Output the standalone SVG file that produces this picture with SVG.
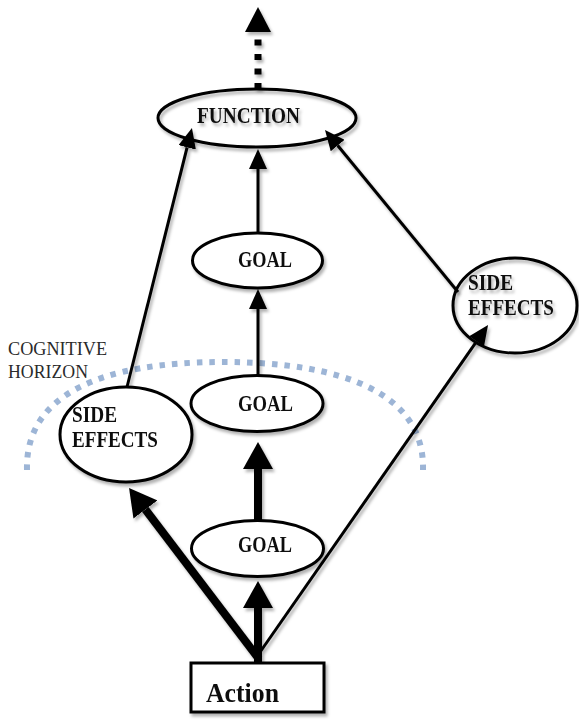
<svg xmlns="http://www.w3.org/2000/svg" width="579" height="721" viewBox="0 0 579 721">
  <defs>
    <style>
      .shape { fill: #fff; stroke: #000; stroke-width: 3; }
      .label { font-family: "Liberation Serif", "DejaVu Serif", serif; font-weight: bold; font-size: 23px; fill: #111; }
      .note { font-family: "Liberation Serif", "DejaVu Serif", serif; font-size: 18.5px; fill: #2a2a2a; }
      .edge { fill: none; stroke: #000; stroke-linecap: butt; }
      .thin { stroke-width: 3; marker-end: url(#head-thin); }
      .thick { stroke-width: 8; marker-end: url(#head-thick); }
      .horizon { fill: none; stroke: #9db5d6; stroke-width: 6; stroke-dasharray: 5.5 7; }
    </style>
    <filter id="shadow" filterUnits="userSpaceOnUse" x="0" y="0" width="579" height="721">
      <feDropShadow dx="2" dy="3" stdDeviation="1.8" flood-color="#000" flood-opacity="0.3"/>
    </filter>
    <filter id="soft" filterUnits="userSpaceOnUse" x="0" y="0" width="579" height="721">
      <feGaussianBlur stdDeviation="0.6"/>
    </filter>
    <marker id="head-thin" viewBox="0 0 20 18" refX="0" refY="9" markerWidth="20" markerHeight="18" markerUnits="userSpaceOnUse" orient="auto">
      <path d="M0,0 L20,9 L0,18 Z" fill="#000"/>
    </marker>
    <marker id="head-thick" viewBox="0 0 27 30" refX="0" refY="15" markerWidth="27" markerHeight="30" markerUnits="userSpaceOnUse" orient="auto">
      <path d="M0,0 L27,15 L0,30 Z" fill="#000"/>
    </marker>
  </defs>

  <!-- cognitive horizon: dotted arc with its caption -->
  <g id="cognitive-horizon">
    <path class="horizon" filter="url(#soft)" d="M27,470 C25,395 100,362 223,362 C346,362 425,395 423,470"/>
    <text class="note" x="8" y="355" textLength="99" lengthAdjust="spacingAndGlyphs">COGNITIVE</text>
    <text class="note" x="8" y="378" textLength="80" lengthAdjust="spacingAndGlyphs">HORIZON</text>
  </g>

  <!-- connectors -->
  <g id="connectors" filter="url(#shadow)">
    <!-- open-ended continuation above FUNCTION -->
    <path class="edge" d="M258,89 V39.5" stroke-width="7" stroke-dasharray="6 8.5"/>
    <path d="M258,7 L271,32 L245,32 Z" fill="#000"/>
    <!-- goal chain -->
    <path class="edge thin" d="M258,233 V169"/>
    <path class="edge thin" d="M258,375 V309"/>
    <path class="edge thick" d="M258,520 V469"/>
    <path class="edge thick" d="M258,663 V608"/>
    <!-- action to side effects -->
    <path class="edge thick" d="M259,659 L145.4,509.5"/>
    <path class="edge thin" d="M258,655 L476.6,341.4"/>
    <!-- side effects to function -->
    <path class="edge thin" d="M127,387 L187.1,147.4"/>
    <path class="edge thin" d="M458,292 L337.7,145.5"/>
  </g>

  <!-- nodes -->
  <g id="function" filter="url(#shadow)">
    <ellipse class="shape" cx="257" cy="118" rx="99" ry="29" fill-opacity="0"/>
    <text class="label" x="197" y="123" textLength="103" lengthAdjust="spacingAndGlyphs">FUNCTION</text>
  </g>
  <g id="goal-top" filter="url(#shadow)">
    <ellipse class="shape" cx="257.5" cy="260.5" rx="65" ry="27.5"/>
    <text class="label" x="238" y="267" textLength="54" lengthAdjust="spacingAndGlyphs">GOAL</text>
  </g>
  <g id="goal-middle" filter="url(#shadow)">
    <ellipse class="shape" cx="257" cy="403.5" rx="66" ry="28"/>
    <text class="label" x="238" y="411" textLength="55" lengthAdjust="spacingAndGlyphs">GOAL</text>
  </g>
  <g id="goal-bottom" filter="url(#shadow)">
    <ellipse class="shape" cx="257.5" cy="548.5" rx="66" ry="28"/>
    <text class="label" x="238" y="552" textLength="54" lengthAdjust="spacingAndGlyphs">GOAL</text>
  </g>
  <g id="side-effects-left" filter="url(#shadow)">
    <ellipse class="shape" cx="126" cy="434.5" rx="66" ry="47.5"/>
    <text class="label" x="72" y="422" textLength="45" lengthAdjust="spacingAndGlyphs">SIDE</text>
    <text class="label" x="72" y="447" textLength="86" lengthAdjust="spacingAndGlyphs">EFFECTS</text>
  </g>
  <g id="side-effects-right" filter="url(#shadow)">
    <ellipse class="shape" cx="515" cy="305.5" rx="62" ry="47.5" fill-opacity="0"/>
    <text class="label" x="468" y="290" textLength="45" lengthAdjust="spacingAndGlyphs">SIDE</text>
    <text class="label" x="468" y="315" textLength="86" lengthAdjust="spacingAndGlyphs">EFFECTS</text>
  </g>
  <g id="action" filter="url(#shadow)">
    <rect class="shape" x="191" y="663" width="133" height="49"/>
    <text class="label" x="206" y="702" style="font-size:28px" textLength="73" lengthAdjust="spacingAndGlyphs">Action</text>
  </g>
</svg>
